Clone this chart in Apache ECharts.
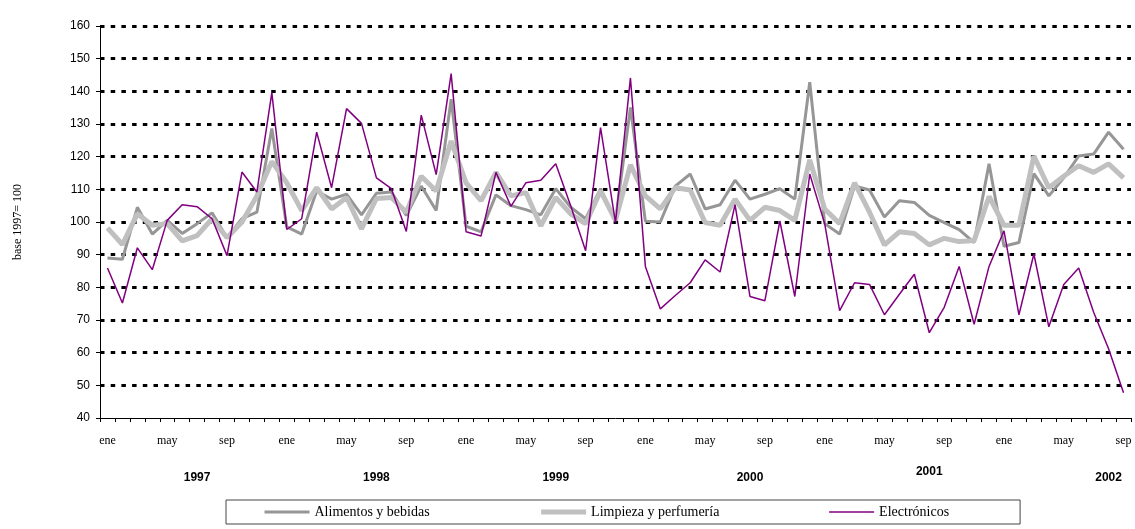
<!DOCTYPE html>
<html>
<head>
<meta charset="utf-8">
<script src="https://cdn.jsdelivr.net/npm/echarts@6/dist/echarts.min.js"></script>
<style>
  html, body { margin: 0; padding: 0; background: #fff; }
  #chart { width: 1135px; height: 529px; }
</style>
</head>
<body>
<div id="chart"></div>
<script>
// months and years shown on the x axis
const meses = ['ene', 'feb', 'mar', 'abr', 'may', 'jun', 'jul', 'ago', 'sep', 'oct', 'nov', 'dic']
const years = ['1997', '1998', '1999', '2000', '2001', '2002']
const lastYearMonths = 9 // 2002 ends in sep

// index values, base 1997 = 100
const alimentos = [
  89.0, 88.6, 104.5, 96.3, 100.5, 96.5, 99.5, 102.8, 95.2, 101.0,
  103.0, 128.6, 98.5, 96.3, 109.5, 107.0, 108.5, 102.2, 108.8, 109.2,
  102.0, 111.0, 103.5, 137.6, 98.7, 97.0, 108.3, 105.0, 103.8, 102.2,
  110.2, 104.5, 101.0, 110.2, 100.5, 135.1, 100.2, 100.0, 111.0, 114.7,
  104.0, 105.3, 112.8, 107.0, 108.5, 110.2, 107.0, 142.8, 99.5, 96.3,
  111.0, 109.8, 101.5, 106.5, 106.0, 102.0, 99.8, 97.7, 93.7, 117.8,
  92.6, 93.7, 114.8, 108.0, 113.5, 120.2, 120.8, 127.5, 122.3
]
const limpieza = [
  98.2, 93.1, 102.5, 99.0, 99.5, 94.2, 95.8, 101.0, 95.2, 100.0,
  108.0, 118.5, 112.0, 103.5, 110.5, 104.0, 107.5, 97.9, 107.2, 107.5,
  103.0, 114.0, 109.5, 124.8, 112.0, 106.5, 115.2, 108.0, 109.0, 98.8,
  107.5, 102.5, 99.5, 109.5, 100.5, 117.5, 108.0, 104.0, 110.5, 109.8,
  99.8, 99.0, 107.0, 100.5, 104.5, 103.5, 100.5, 119.0, 104.0, 99.5,
  112.0, 103.0, 93.0, 97.0, 96.5, 93.0, 95.0, 94.0, 94.3, 107.8,
  99.0, 99.0, 120.2, 110.5, 114.0, 117.2, 115.2, 117.8, 113.5
]
const electronicos = [
  85.9, 75.2, 92.1, 85.4, 100.5, 105.3, 104.7, 101.0, 89.7, 115.3,
  109.2, 139.6, 97.7, 101.0, 127.5, 110.5, 134.7, 130.2, 113.5, 110.2,
  97.1, 132.7, 114.5, 145.4, 97.0, 95.7, 115.2, 104.8, 112.0, 112.8,
  117.8, 105.0, 91.2, 128.9, 99.8, 144.1, 86.4, 73.4, 77.5, 81.4,
  88.4, 84.7, 105.3, 77.2, 75.9, 100.3, 77.2, 114.7, 99.5, 72.9,
  81.4, 80.9, 71.6, 77.9, 84.0, 66.1, 73.9, 86.4, 68.7, 86.4,
  97.3, 71.6, 90.2, 67.9, 80.9, 85.9, 72.4, 61.2, 47.7
]

// where each year label sits, in month-index units along the axis
const yearAt = [5.5, 18.1, 30.3, 42.7, 54.9, 67.1]
const yearRaise = [0, 0, 0, 0, 6, 0]

const categories = []
years.forEach((y, yi) => {
  const n = yi === years.length - 1 ? lastYearMonths : 12
  for (let m = 0; m < n; m++) categories.push(meses[m] + ' ' + y)
})

const seriesNames = ['Alimentos y bebidas', 'Limpieza y perfumería', 'Electrónicos']
const seriesColors = ['#969696', '#c0c0c0', '#800080']
const seriesWidths = [3, 5, 1.5]

const chart = echarts.init(document.getElementById('chart'), null, { renderer: 'canvas' })

chart.setOption({
  animation: false,
  backgroundColor: '#fff',
  grid: { left: 100, right: 4, top: 26, bottom: 111 },
  legend: {
    left: 226,
    top: 500,
    padding: [5, 71, 5, 37],
    itemGap: 109,
    itemWidth: 45,
    itemHeight: 14,
    borderColor: '#444',
    borderWidth: 1,
    itemStyle: { opacity: 0 },
    textStyle: { fontFamily: 'Liberation Serif', fontSize: 14, color: '#000' },
    data: seriesNames.map((n, i) => ({
      name: n,
      lineStyle: { color: seriesColors[i], width: seriesWidths[i] }
    }))
  },
  xAxis: {
    type: 'category',
    data: categories,
    boundaryGap: true,
    axisLine: { lineStyle: { color: '#000', width: 1 } },
    axisTick: { show: true, interval: 0, length: 4, lineStyle: { color: '#000' } },
    axisLabel: {
      interval: 3,
      margin: 17,
      color: '#000',
      fontFamily: 'Liberation Serif',
      fontSize: 12,
      formatter: v => v.split(' ')[0]
    },
    splitLine: { show: false }
  },
  yAxis: {
    type: 'value',
    min: 40,
    max: 160,
    interval: 10,
    name: 'base 1997= 100',
    nameLocation: 'middle',
    nameRotate: 90,
    nameGap: 76,
    nameTextStyle: { fontFamily: 'Liberation Serif', fontSize: 12, color: '#000' },
    axisLine: { show: true, lineStyle: { color: '#000', width: 1 } },
    axisTick: { show: true, length: 4, lineStyle: { color: '#000' } },
    axisLabel: { color: '#000', fontFamily: 'Liberation Sans', fontSize: 12, margin: 10 },
    splitLine: {
      show: true,
      showMinLine: false,
      lineStyle: { color: '#000', width: 3, type: [4.5, 6.2] }
    }
  },
  series: [alimentos, limpieza, electronicos].map((vals, i) => ({
    name: seriesNames[i],
    type: 'line',
    data: vals,
    symbol: 'none',
    lineStyle: { color: seriesColors[i], width: seriesWidths[i] },
    itemStyle: { color: seriesColors[i] }
  }))
})

// year labels under the month labels
const axisY = chart.convertToPixel({ yAxisIndex: 0 }, 40)
chart.setOption({
  graphic: years.map((y, i) => ({
    type: 'text',
    x: chart.convertToPixel({ xAxisIndex: 0 }, yearAt[i]),
    y: axisY + 60 - yearRaise[i],
    style: {
      text: y,
      fill: '#000',
      font: 'bold 12px "Liberation Sans"',
      align: 'center',
      verticalAlign: 'middle'
    }
  }))
})
</script>
</body>
</html>
